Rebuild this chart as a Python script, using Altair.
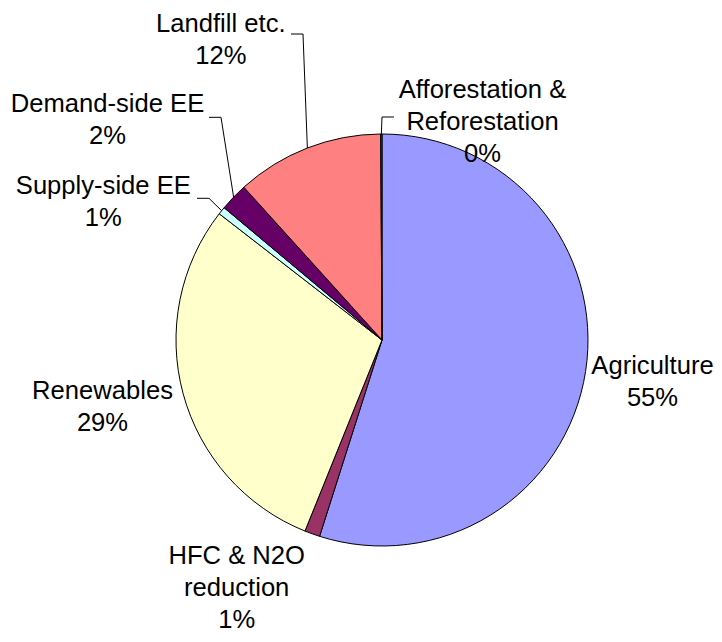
import math
import altair as alt
import pandas as pd

# ---- data (percent shares, clockwise from 12 o'clock) ----
categories = ["Agriculture", "HFC & N2O reduction", "Renewables", "Supply-side EE",
              "Demand-side EE", "Landfill etc.", "Afforestation & Reforestation"]
values = [54.9, 1.2, 29.4, 0.6, 2.2, 11.6, 0.1]
colors = ["#9999FF", "#993366", "#FFFFCC", "#CCFFFF", "#660066", "#FF8080", "#0066CC"]
label_lines = [["Agriculture"], ["HFC & N2O", "reduction"], ["Renewables"],
               ["Supply-side EE"], ["Demand-side EE"], ["Landfill etc."],
               ["Afforestation &", "Reforestation"]]

# ---- layout ----
W, H = 706, 626
CX, CY, R = 374, 332, 206
label_x = [644.5, 228.7, 94.5, 95.3, 99.5, 212.8, 474.5]
label_y = [365.8, 556, 390.8, 185.8, 104.2, 24.2, 89.5]
# leader elbows: (elbow x, elbow y, end x) ; None = no leader
leaders = [None, None, None, (201, 190.3, 189), (213, 109.3, 201), (295, 26, 283), (374, 109, 386)]

total = sum(values)
df = pd.DataFrame({"category": categories, "value": values, "idx": list(range(len(values)))})

lab = pd.DataFrame({
    "category": categories,
    "text": [lines + [f"{round(v)}%"] for lines, v in zip(label_lines, values)],
    "lx": label_x, "ly": label_y,
})

# leader lines: start at mid-angle point on the rim (from the data), then elbow, then end
rows = []
cum = 0.0
for i, v in enumerate(values):
    mid = (cum + v / 2) / total * 2 * math.pi
    cum += v
    if leaders[i] is None:
        continue
    ex, ey, endx = leaders[i]
    px, py = CX + R * math.sin(mid), CY - R * math.cos(mid)
    for k, (x, y) in enumerate([(px, py), (ex, ey), (endx, ey)]):
        rows.append({"category": categories[i], "k": k, "x": x, "y": y})
lead = pd.DataFrame(rows)

pie = alt.Chart(df).mark_arc(radius=R, stroke="black", strokeWidth=1).encode(
    theta=alt.Theta("value:Q", stack=True),
    color=alt.Color("category:N", scale=alt.Scale(domain=categories, range=colors), legend=None),
    order=alt.Order("idx:Q"),
    x=alt.value(CX), y=alt.value(CY),
)

lines = alt.Chart(lead).mark_line(color="black", strokeWidth=1).encode(
    x=alt.X("x:Q", scale=None, axis=None),
    y=alt.Y("y:Q", scale=None, axis=None),
    detail="category:N",
    order="k:Q",
)

texts = alt.Chart(lab).mark_text(
    font="Liberation Sans", fontSize=25.6, lineHeight=32, align="center",
    baseline="alphabetic", color="black",
).encode(
    x=alt.X("lx:Q", scale=None, axis=None),
    y=alt.Y("ly:Q", scale=None, axis=None),
    text="text",
)

chart = alt.layer(pie, lines, texts).properties(
    width=W, height=H, padding=0, autosize=alt.AutoSizeParams(type="none"),
    background="white",
).configure_view(stroke=None)

chart.save("out.html", embed_options={"renderer": "svg", "actions": False})
